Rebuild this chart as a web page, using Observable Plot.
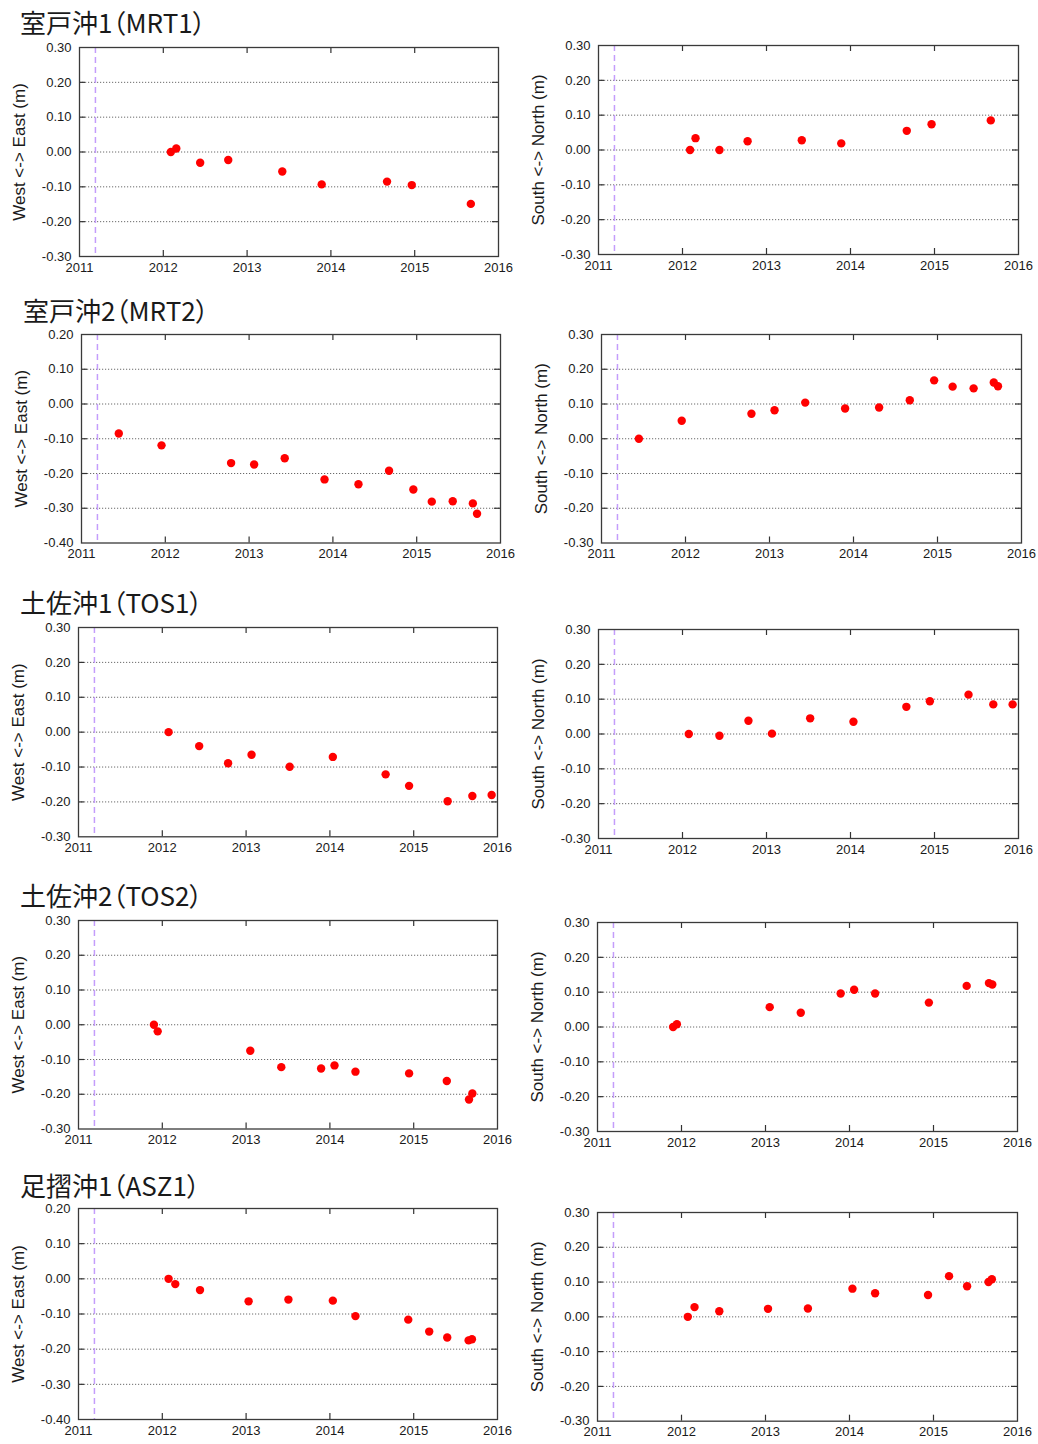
<!DOCTYPE html>
<html>
<head>
<meta charset="utf-8">
<script src="https://cdn.jsdelivr.net/npm/d3@7"></script>
<script src="https://cdn.jsdelivr.net/npm/@observablehq/plot@0.6"></script>
<style>
  html, body { margin: 0; padding: 0; background: #fff; }
  #root { position: relative; width: 1038px; height: 1444px; background: #fff; overflow: hidden; }
  .ttl { position: absolute; font-family: "Noto Sans CJK JP", "Noto Sans", sans-serif; font-size: 26px; line-height: 1; color: #1a1a1a; font-feature-settings: "palt"; white-space: nowrap; font-weight: 400; }
  svg { position: absolute; }
</style>
</head>
<body>
<div id="root"></div>
<script>
// ---- data (decimal years, displacement in m) ----
const eventDate = [2011.19];
const years = [2011, 2012, 2013, 2014, 2015, 2016];
const yTicks30 = [-0.3, -0.2, -0.1, 0, 0.1, 0.2, 0.3];
const yTicks40 = [-0.4, -0.3, -0.2, -0.1, 0, 0.1, 0.2];

const titles = ["室戸沖1（MRT1）", "室戸沖2（MRT2）", "土佐沖1（TOS1）", "土佐沖2（TOS2）", "足摺沖1（ASZ1）"];
const labelEW = "West <-> East (m)";
const labelNS = "South <-> North (m)";

const MRT1_t  = [2012.09, 2012.155, 2012.44, 2012.775, 2013.42, 2013.89, 2014.67, 2014.965, 2015.67];
const MRT1_ew = [0.000, 0.010, -0.031, -0.023, -0.056, -0.093, -0.085, -0.095, -0.149];
const MRT1_ns = [0.000, 0.034, 0.000, 0.025, 0.028, 0.019, 0.055, 0.074, 0.085];

const MRT2_t  = [2011.445, 2011.955, 2012.785, 2013.06, 2013.425, 2013.90, 2014.305, 2014.67, 2014.96, 2015.18, 2015.43, 2015.67, 2015.72];
const MRT2_ew = [-0.085, -0.119, -0.170, -0.174, -0.156, -0.217, -0.231, -0.192, -0.246, -0.281, -0.280, -0.286, -0.316];
const MRT2_ns = [0.000, 0.052, 0.072, 0.082, 0.104, 0.087, 0.090, 0.111, 0.168, 0.150, 0.145, 0.162, 0.151];

const TOS1_t  = [2012.075, 2012.44, 2012.785, 2013.065, 2013.52, 2014.035, 2014.665, 2014.945, 2015.405, 2015.70, 2015.93];
const TOS1_ew = [0.000, -0.040, -0.089, -0.065, -0.099, -0.071, -0.121, -0.154, -0.198, -0.183, -0.180];
const TOS1_ns = [0.000, -0.005, 0.038, 0.001, 0.045, 0.035, 0.078, 0.094, 0.113, 0.085, 0.085];

const TOS2_t  = [2011.90, 2011.945, 2013.05, 2013.42, 2013.895, 2014.055, 2014.305, 2014.945, 2015.395, 2015.66, 2015.70];
const TOS2_ew = [0.000, -0.019, -0.075, -0.122, -0.126, -0.117, -0.135, -0.140, -0.162, -0.215, -0.198];
const TOS2_ns = [0.000, 0.008, 0.057, 0.041, 0.096, 0.107, 0.096, 0.070, 0.118, 0.126, 0.122];

const ASZ1_t  = [2012.075, 2012.155, 2012.45, 2013.03, 2013.505, 2014.035, 2014.305, 2014.935, 2015.185, 2015.40, 2015.655, 2015.695];
const ASZ1_ew = [0.000, -0.015, -0.032, -0.064, -0.059, -0.062, -0.106, -0.116, -0.150, -0.167, -0.175, -0.172];
const ASZ1_ns = [0.000, 0.028, 0.016, 0.023, 0.024, 0.081, 0.068, 0.063, 0.117, 0.088, 0.100, 0.108];

// ---- layout ----
const root = document.getElementById("root");
const W = 519, ML = 79, MT = 8, MB = 26;

const titlePos = [[20, 9], [23, 297], [20, 589], [20, 882], [20, 1172]];

const panels = [
  {t: MRT1_t, v: MRT1_ew, ticks: yTicks30, label: labelEW, left: 0,   frameTop: 46.7,  fh: 209, mr: 21},
  {t: MRT1_t, v: MRT1_ns, ticks: yTicks30, label: labelNS, left: 519, frameTop: 45.3,  fh: 209, mr: 20},
  {t: MRT2_t, v: MRT2_ew, ticks: yTicks40, label: labelEW, left: 2,   frameTop: 334,   fh: 208.5, mr: 21},
  {t: MRT2_t, v: MRT2_ns, ticks: yTicks30, label: labelNS, left: 522, frameTop: 333.7, fh: 208.5, mr: 20},
  {t: TOS1_t, v: TOS1_ew, ticks: yTicks30, label: labelEW, left: -1,  frameTop: 626.7, fh: 209.3, mr: 21},
  {t: TOS1_t, v: TOS1_ns, ticks: yTicks30, label: labelNS, left: 519, frameTop: 628.7, fh: 209, mr: 20},
  {t: TOS2_t, v: TOS2_ew, ticks: yTicks30, label: labelEW, left: -1,  frameTop: 920,   fh: 208.5, mr: 21},
  {t: TOS2_t, v: TOS2_ns, ticks: yTicks30, label: labelNS, left: 518, frameTop: 921.7, fh: 209, mr: 20},
  {t: ASZ1_t, v: ASZ1_ew, ticks: yTicks40, label: labelEW, left: -1,  frameTop: 1208.3, fh: 211, mr: 21},
  {t: ASZ1_t, v: ASZ1_ns, ticks: yTicks30, label: labelNS, left: 518, frameTop: 1212,  fh: 208.7, mr: 20}
];

titles.forEach((txt, i) => {
  const d = document.createElement("div");
  d.className = "ttl";
  d.textContent = txt;
  d.style.left = titlePos[i][0] + "px";
  d.style.top = titlePos[i][1] + "px";
  root.appendChild(d);
});

for (const p of panels) {
  const data = p.t.map((t, i) => ({t, v: p.v[i]}));
  const yDomain = [p.ticks[0], p.ticks[p.ticks.length - 1]];
  const height = p.fh + MT + MB;
  const fw = W - ML - p.mr;
  const grid = p.ticks.slice(1, -1);
  const inner = years.slice(1, -1);
  const svg = Plot.plot({
    width: W,
    height,
    marginLeft: ML,
    marginRight: p.mr,
    marginTop: MT,
    marginBottom: MB,
    style: {fontFamily: "'Liberation Sans', Arial, sans-serif", fontSize: "13px", background: "transparent", color: "#1a1a1a", overflow: "visible"},
    x: {domain: [2011, 2016]},
    y: {domain: yDomain},
    marks: [
      Plot.ruleY(grid, {y: d => d, stroke: "#6a6a6a", strokeWidth: 1, strokeDasharray: "1.2,1.8"}),
      Plot.tickY(grid, {y: d => d, stroke: "#333", strokeWidth: 1.2, insetRight: fw - 6}),
      Plot.tickY(grid, {y: d => d, stroke: "#333", strokeWidth: 1.2, insetLeft: fw - 6}),
      Plot.tickX(inner, {x: d => d, stroke: "#333", strokeWidth: 1.2, insetBottom: p.fh - 6}),
      Plot.tickX(inner, {x: d => d, stroke: "#333", strokeWidth: 1.2, insetTop: p.fh - 6}),
      Plot.ruleX(eventDate, {x: d => d, stroke: "#c49dfb", strokeWidth: 1.5, strokeDasharray: "6,4"}),
      Plot.frame({stroke: "#3a3a3a", strokeWidth: 1.3}),
      Plot.dot(data, {x: "t", y: "v", r: 4.2, fill: "#ff0000", stroke: "none"}),
      Plot.axisX(years, {tickSize: 0, tickPadding: 6, tickFormat: d => String(d), fontSize: 13, label: null}),
      Plot.axisY(p.ticks, {tickSize: 0, tickPadding: 8, tickFormat: d => d.toFixed(2), fontSize: 13, label: null}),
      Plot.text([p.label], {text: d => d, frameAnchor: "left", textAnchor: "middle", lineAnchor: "middle", dx: -60, rotate: -90, fontSize: 17, fill: "#1a1a1a"})
    ]
  });
  svg.style.left = p.left + "px";
  svg.style.top = (p.frameTop - MT) + "px";
  root.appendChild(svg);
}
</script>
</body>
</html>
